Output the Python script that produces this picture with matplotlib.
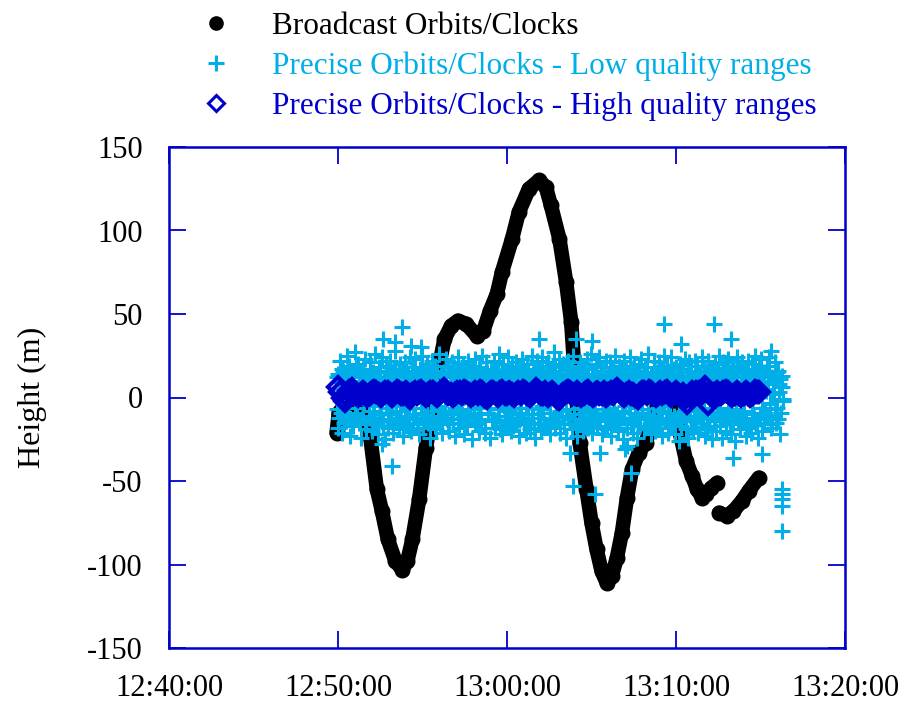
import matplotlib
matplotlib.use('Agg')
import matplotlib.pyplot as plt
import matplotlib.dates as mdates
from matplotlib.lines import Line2D
import pandas as pd

plt.rcParams['font.family'] = ['Liberation Serif', 'DejaVu Serif']
plt.rcParams['axes.unicode_minus'] = False

base = pd.Timestamp('2000-01-01 12:40:00')

# broadcast orbits/clocks: minutes after 12:40 and height (m), two pieces
bc_t1 = [9.92, 10.05, 10.5, 11.0, 11.5, 11.9, 12.3, 12.6, 12.95, 13.4, 13.8, 14.1, 14.4, 14.8,
         15.2, 15.6, 16.0, 16.3, 16.7, 17.1, 17.6, 18.2, 18.6, 19.0, 19.4, 19.7, 20.3, 20.7,
         21.3, 21.9, 22.3, 22.6, 23.1, 23.5, 23.8, 24.0, 24.3, 24.7, 25.0, 25.3, 25.6, 25.9,
         26.2, 26.5, 26.8, 27.1, 27.4, 27.8, 28.2, 28.6, 29.0, 29.6, 30.0, 30.2, 30.6, 30.95,
         31.25, 31.55, 31.8, 32.1, 32.45]
bc_h1 = [-21, -9, -3, -4, -9, -23, -55, -68, -85, -98, -103, -98, -85, -61,
         -30, -8, 20, 35, 43, 46, 44, 37, 40, 52, 62, 75, 95, 111,
         125, 130, 126, 115, 95, 69, 45, 15, -27, -55, -75, -91, -104, -111,
         -107, -96, -81, -60, -43, -33, -27, -15, 0, 12, -5, -20, -38, -47,
         -55, -60, -58, -54, -51]
bc_t2 = [32.55, 33.0, 33.4, 33.9, 34.3, 34.9]
bc_h2 = [-69, -71, -68, -62, -56, -48]

# precise, low quality ranges: even epochs every 4 s from 12:49:55 ...
lq_start_a = '2000-01-01 12:49:55'
lq_h_a = [12, -18, 5, 22, -9, -21, 16, 3, -14, 25, -6, 19, -23, 8, 14, -17, 27, -11, 1, 20,
          -15, 10, -24, 17, -4, 23, -19, 13, 6, -12, 21, -20, 15, -8, 26, -16, 9, -22, 18, -2,
          24, -13, 11, -25, 19, 4, -18, 22, -10, 15, -21, 7, 28, -14, 12, -19, 20, -5, 16, -23,
          9, 21, -17, 14, -7, 24, -20, 18, -12, 2, 23, -15, 11, -22, 17, -9, 25, -18, 13, -3,
          20, -14, 16, -24, 6, 22, -11, 19, -19, 12, -6, 26, -16, 10, -21, 15, -8, 23, -13, 18,
          -20, 5, 21, -15, 13, -23, 17, -4, 24, -18, 11, -10, 20, -22, 14, 1, -17, 22, -12, 16,
          -25, 19, -7, 23, -16, 9, -20, 18, -13, 25, -2, 14, -21, 21, -9, 12, -24, 17, -14, 7,
          22, -18, 15, -11, 26, -19, 10, -22, 20, -5, 16, -15, 24, -8, 13, -20, 19, -17, 3, 21,
          -13, 18, -23, 11, -6, 23, -16, 14, -21, 20, -10, 8, -19, 25, -12, 17, -24, 6, 22, -15,
          15, -20, 24, -9, 12, -17, 19, -3, 21, -22, 10, 16, -14, 27, -18, 9, -11, 23, -21, 13,
          -8, 20, -16, 14, -24, 22, -12, 5, 18, -19, 25, -7, 11, -23, 16, -15, 21, -10, 19, -20,
          17, -6, 23, -18, 10, -14, 26, -21, 13, -9, 20, -17, 7, 24, -13, 15, -22, 18, -4, 22,
          -19, 12, -11, 21, -23, 16, -8, 25, -15, 9, -20, 19, -12, 14, -25, 22, -5, 17, -18, 11,
          24, -16, 8, -21, 19, -10, 15, -24, 20, -13, 23, -7, 12, -19, 18, -17, 26, -11, 6, -22,
          14, -15, 22, -20, 11, -6, 21, -18, 16, -23, 9, 25, -12, 19, -21, 13, -9, 24, -16, 17,
          -22, 18, -13, 10, -26, 20, -17, 15, -8, 23, -19, 12, -24, 21, -11, 16, -20, 7, 22, -14,
          19, -21, 13, -10, 24, -15, 18, -23, 11, -18, 22, -6, 17, -25, 14, -12, 20, -20, 9, 25,
          -17, 11, -24, 21, -13, 16, -20, 23, -9, 15, -22, 19, -14, 8, -26, 24, -11, 18, -19, 12,
          21, -14, 17, -23, 6, 22, -18, 13, -21, 20, -10, 25, -16, 11, -24, 18, -13, 23, -20, 15,
          -9, 4, 19, -12, 24, -3, -18, 10, 2, 21, -15, -6, 16, 8, -22, 13, -1]
# ... and the odd epochs in between, from 12:49:57
lq_start_b = '2000-01-01 12:49:57'
lq_h_b = [-7, 14, -12, 9, 17, -4, -15, 11, 6, -10, 16, -13, 8, -17, 13, 4, -9, 18, -6, 12,
          -14, 7, 15, -11, 10, -16, 5, 13, -8, 17, -12, 9, -5, 14, -15, 11, 3, -13, 16, -10,
          8, -17, 12, -6, 15, -9, 18, -14, 7, 11, -16, 13, -4, 10, -12, 17, -8, 6, -15, 14,
          -11, 16, -7, 12, -18, 9, 5, -13, 15, -10, 8, 14, -16, 11, -6, 18, -12, 7, -14, 13,
          10, -15, 17, -8, 6, -12, 14, -17, 9, 16, -5, -11, 13, -14, 8, 15, -9, 12, -16, 4,
          15, -10, 7, -13, 18, -6, 11, -15, 14, -8, 5, 16, -12, 10, -17, 13, -7, 17, -11, 9,
          -13, 12, -16, 8, 14, -9, 17, -5, -14, 10, 13, -18, 7, 15, -10, 11, -6, 16, -13, 6,
          11, -14, 9, 16, -7, 13, -17, 12, 4, -11, 15, -8, 18, -15, 8, -12, 14, -6, 10, -16,
          16, -9, 13, -12, 7, 17, -14, 10, -6, 15, -16, 9, 12, -10, 14, -18, 6, 11, -7, 17,
          -12, 15, -5, 10, -15, 13, 8, -17, 16, -9, 11, -13, 5, 18, -11, 7, -14, 14, -8, 12,
          9, -16, 14, -7, 12, -11, 17, -13, 6, 15, -10, 13, -17, 8, 16, -6, 10, -15, 11, -9,
          -15, 13, -8, 17, -12, 6, 14, -16, 10, -7, 18, -11, 12, -14, 7, 15, -9, 13, -18, 10,
          14, -6, 11, -17, 9, 16, -13, 8, -10, 13, -15, 6, 17, -8, 12, -12, 15, -16, 7, 11,
          -9, 17, -14, 10, -6, 13, -11, 16, -17, 8, 12, -7, 15, -13, 9, 18, -10, 6, -15, 14,
          12, -13, 7, 15, -16, 11, -8, 14, -12, 17, -5, 10, -14, 13, -9, 16, -17, 8, 12, -11,
          -16, 10, 16, -9, 13, -14, 6, 17, -11, 9, -13, 15, -6, 12, -18, 11, 7, -12, 14, -8,
          13, -11, 15, -15, 8, 12, -7, 16, -13, 10, -17, 14, -9, 6, 17, -14, 11, -10, 15, -6,
          -10, 14, -12, 7, 16, -15, 12, -8, 13, -16, 9, 17, -11, 15, -7, 10, -14, 18, -12, 8,
          16, -8, 12, -14, 10, 15, -17, 7, -9, 14, -12, 11, 6, -15, 13, -10, 17, -6, 9, -13,
          5, -11, 8, 14, -4, 12, -16, 2, 10, -7, 15, -13, 3, 11, -9, 6, -2]
lq_step = '4s'
# scattered low quality points outside the band (minutes after 12:40, height)
lq_out_t = [13.8, 12.65, 13.35, 14.3, 14.9, 13.2, 12.6, 21.9, 24.1, 25.0, 23.7, 25.5, 27.0,
            23.9, 25.2, 29.3, 32.25, 33.25, 30.3, 35.6, 35.1, 33.4, 27.35, 27.1,
            36.27, 36.27, 36.27, 36.27, 36.27]
lq_out_h = [42, 35, 33, 31, 30, -41, -28, 35, 35, 34, -33, -33, -31,
            -53, -58, 44, 44, 35, 32, 28, -34, -36, -45, -29,
            -55, -58, -61, -65, -80]

# precise, high quality ranges: one value every 8 s from 12:50:00
hq_start = '2000-01-01 12:50:00'
hq_step = '8s'
hq_h = [6, 3, 0, -2, 1, 4, 5, 3, 2, 1, 2, 3, 2, 1, 2, 3, 4, 3, 2, 1,
        2, 3, 3, 2, 1, 2, 4, 3, 2, 2, 3, 1, 0, 2, 3, 2, 3, 4, 2, 1,
        2, 3, 3, 2, 1, 2, 4, 5, 3, 2, 2, 1, 2, 3, 3, 2, 4, 3, 2, 1,
        2, 3, 2, 4, 3, 1, 0, 2, 3, 3, 2, 1, 3, 4, 2, 2, 3, 2, 1, 2,
        3, 2, 4, 3, 2, 1, 2, 3, 5, 3, 2, 2, 3, 1, 2, 3, 2, 0, -1, 1,
        2, 3, 4, 3, 2, 2, 3, 2, 1, 2, 3, 4, 2, 1, 2, 3, 2, 2, 3, 1,
        2, 3, 2, 4, 5, 3, 2, 1, 2, 3, 2, 2, 1, 0, 2, 3, 3, 2, 4, 3,
        2, 1, 2, 3, 2, 3, 4, 2, 1, 2, 3, 2, 1, 2, 0, -3, 1, 3, 2, 3,
        3, 2, 4, 6, -4, 2, 1, 2, 3, 2, 2, 3, 4, 3, 2, 1, 2, 3, 2, 1,
        2, 3, 2, 1, 2, 4, 3, 3]

labels = ['Broadcast Orbits/Clocks',
          'Precise Orbits/Clocks - Low quality ranges',
          'Precise Orbits/Clocks - High quality ranges']

blue = '#0000CC'
cyan = '#00AEE8'


def tmin(m):
    return base + pd.to_timedelta(m, unit='min')


fig = plt.figure(figsize=(8.99, 7.08), dpi=100)
ax = fig.add_axes([169 / 899, 1 - 648 / 708, 676 / 899, 501 / 708])

for t, h in [(bc_t1, bc_h1), (bc_t2, bc_h2)]:
    ax.plot(tmin(t), h, '-o', color='k', lw=10.5, ms=10.5,
            solid_capstyle='round', solid_joinstyle='round', zorder=2)

plus = dict(ls='none', marker='+', ms=12, mew=2.2, color=cyan, zorder=3)
for start, vals in [(lq_start_a, lq_h_a), (lq_start_b, lq_h_b)]:
    ax.plot(pd.date_range(start, periods=len(vals), freq=lq_step), vals, **plus)
ax.plot(tmin(lq_out_t), lq_out_h, **plus)

hq_t = pd.date_range(hq_start, periods=len(hq_h), freq=hq_step)
ax.plot(hq_t, hq_h, ls='none', marker='D', ms=10, mfc='none', mec=blue, mew=3, zorder=4)

ax.set_xlim(tmin(0), tmin(40))
ax.set_ylim(-150, 150)
ax.set_yticks(range(-150, 151, 50))
ax.xaxis.set_major_locator(mdates.MinuteLocator(byminute=range(0, 60, 10)))
ax.xaxis.set_major_formatter(mdates.DateFormatter('%H:%M:%S'))
ax.tick_params(direction='in', length=12, width=1.3, color=blue, top=True, right=True,
               labelsize=22, pad=19)
for s in ax.spines.values():
    s.set_color(blue)
    s.set_linewidth(1.8)
ax.set_ylabel('Height (m)', fontsize=23, labelpad=29)

handles = [Line2D([], [], ls='none', marker='o', color='k', ms=9.5),
           Line2D([], [], ls='none', marker='+', color=cyan, ms=12, mew=2.2),
           Line2D([], [], ls='none', marker='D', mfc='none', mec=blue, ms=8, mew=2.2)]
fig.legend(handles, labels, loc='upper left', bbox_to_anchor=(200 / 899, 1 - 12 / 708),
           frameon=False, fontsize=22.5, labelcolor=['black', cyan, blue],
           handlelength=1, handletextpad=1.3, labelspacing=0.33,
           borderpad=0, borderaxespad=0)

fig.savefig('out.png', dpi=100)
